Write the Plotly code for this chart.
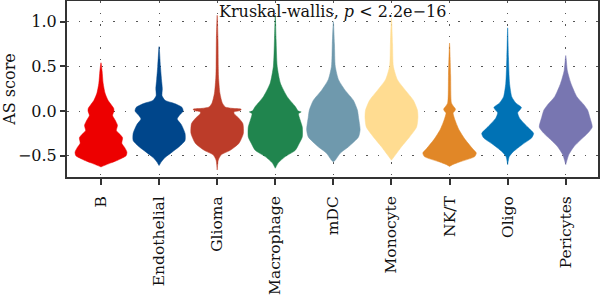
import plotly.graph_objects as go

CATEGORIES = ["B", "Endothelial", "Glioma", "Macrophage", "mDC", "Monocyte", "NK/T", "Oligo", "Pericytes"]
COLORS = ["#ED0000", "#00468B", "#BC3C29", "#20854E", "#6F99AD", "#FFDC91", "#E18727", "#0072B5", "#7876B1"]

# Violin profiles: AS score level and relative density (0..1)
B_Y = [0.54, 0.45, 0.31, 0.20, 0.12, 0.07, 0.03, 0.0, -0.05, -0.10, -0.16, -0.22, -0.26, -0.30, -0.36, -0.41, -0.46, -0.50, -0.55, -0.58, -0.61, -0.625]
B_D = [0.0, 0.04, 0.08, 0.15, 0.26, 0.38, 0.47, 0.48, 0.43, 0.52, 0.61, 0.57, 0.70, 0.80, 0.77, 0.88, 0.96, 0.93, 0.62, 0.37, 0.12, 0.0]

EN_Y = [0.72, 0.50, 0.35, 0.25, 0.17, 0.12, 0.08, 0.04, 0.0, -0.05, -0.09, -0.15, -0.25, -0.33, -0.40, -0.46, -0.52, -0.57, -0.61]
EN_D = [0.0, 0.05, 0.09, 0.12, 0.11, 0.22, 0.60, 0.85, 0.89, 0.75, 0.67, 0.82, 0.96, 0.96, 0.74, 0.48, 0.22, 0.08, 0.0]

GL_Y = [1.07, 0.80, 0.50, 0.38, 0.20, 0.09, 0.045, 0.03, 0.02, 0.005, -0.01, -0.03, -0.08, -0.14, -0.25, -0.36, -0.44, -0.49, -0.55, -0.66]
GL_D = [0.0, 0.03, 0.04, 0.05, 0.10, 0.19, 0.30, 0.55, 0.89, 0.85, 0.62, 0.63, 0.80, 0.95, 0.97, 0.81, 0.48, 0.15, 0.04, 0.0]

MA_Y = [1.07, 0.80, 0.50, 0.31, 0.16, 0.05, 0.0, -0.01, -0.03, -0.10, -0.18, -0.29, -0.36, -0.44, -0.51, -0.58, -0.64]
MA_D = [0.0, 0.03, 0.07, 0.19, 0.44, 0.74, 0.85, 0.96, 0.86, 0.92, 1.0, 1.0, 0.89, 0.74, 0.37, 0.11, 0.0]

MD_Y = [1.00, 0.75, 0.50, 0.35, 0.23, 0.12, 0.01, -0.07, -0.21, -0.29, -0.40, -0.47, -0.55, -0.57]
MD_D = [0.0, 0.04, 0.07, 0.19, 0.44, 0.74, 0.89, 0.93, 0.99, 0.93, 0.56, 0.26, 0.07, 0.0]

MO_Y = [1.04, 0.75, 0.50, 0.35, 0.23, 0.12, 0.01, -0.07, -0.18, -0.29, -0.40, -0.49, -0.55]
MO_D = [0.0, 0.04, 0.07, 0.22, 0.52, 0.81, 0.96, 0.98, 0.93, 0.67, 0.37, 0.15, 0.0]

NK_Y = [0.76, 0.40, 0.09, 0.05, 0.02, -0.005, -0.02, -0.10, -0.21, -0.32, -0.42, -0.47, -0.51, -0.57, -0.60, -0.62]
NK_D = [0.0, 0.04, 0.07, 0.15, 0.22, 0.18, 0.13, 0.20, 0.35, 0.58, 0.85, 0.99, 0.93, 0.37, 0.11, 0.0]

OL_Y = [0.93, 0.60, 0.31, 0.16, 0.09, 0.04, 0.01, -0.02, -0.08, -0.18, -0.25, -0.30, -0.38, -0.46, -0.51, -0.60]
OL_D = [0.0, 0.03, 0.07, 0.15, 0.30, 0.51, 0.45, 0.37, 0.44, 0.74, 0.96, 0.89, 0.52, 0.19, 0.06, 0.0]

PE_Y = [0.62, 0.45, 0.31, 0.16, 0.07, 0.01, -0.07, -0.18, -0.25, -0.32, -0.40, -0.49, -0.60]
PE_D = [0.0, 0.06, 0.19, 0.41, 0.67, 0.81, 0.89, 0.98, 0.81, 0.56, 0.30, 0.11, 0.0]

PROFILES = [(B_Y, B_D), (EN_Y, EN_D), (GL_Y, GL_D), (MA_Y, MA_D), (MD_Y, MD_D),
            (MO_Y, MO_D), (NK_Y, NK_D), (OL_Y, OL_D), (PE_Y, PE_D)]

Y_TICKS = [-0.5, 0.0, 0.5, 1.0]
Y_TICK_TEXT = ["\u22120.5", "0.0", "0.5", "1.0"]
TITLE = "Kruskal-wallis, <i>p</i> < 2.2e\u221216"

HALF_WIDTH = 0.465  # max half width of a violin, in category units
FONT = "DejaVu Serif"

fig = go.Figure()
for i, (cat, col, (ys, ds)) in enumerate(zip(CATEGORIES, COLORS, PROFILES)):
    xs_right = [i + HALF_WIDTH * d for d in ds]
    xs_left = [i - HALF_WIDTH * d for d in reversed(ds)]
    xs = xs_right + xs_left
    yy = list(ys) + list(reversed(ys))
    fig.add_trace(go.Scatter(
        x=xs, y=yy, mode="lines", fill="toself", fillcolor=col,
        line=dict(color=col, width=0.5, shape="spline", smoothing=0.6),
        hoverinfo="skip", showlegend=False, name=cat,
    ))

fig.update_layout(
    width=600, height=297,
    margin=dict(l=67, r=2, t=1, b=120),
    paper_bgcolor="white", plot_bgcolor="white",
    font=dict(family=FONT, size=16, color="#222"),
    showlegend=False,
)
fig.update_xaxes(
    range=[-0.585, 8.555], automargin=False,
    tickmode="array", tickvals=list(range(len(CATEGORIES))), ticktext=CATEGORIES,
    tickangle=-90, tickfont=dict(family=FONT, size=15.5, color="#111"),
    ticks="outside", ticklen=6, tickwidth=1.5, tickcolor="#333",
    ticklabelstandoff=5,
    showline=True, linecolor="#333", linewidth=2, mirror=True,
    showgrid=True, gridcolor="#555", gridwidth=1, griddash="1.5px,10px",
    zeroline=False,
)
fig.update_yaxes(
    range=[-0.738, 1.23], automargin=False,
    tickmode="array", tickvals=Y_TICKS, ticktext=Y_TICK_TEXT,
    tickfont=dict(family=FONT, size=16, color="#111"),
    ticks="outside", ticklen=5, tickwidth=1.5, tickcolor="#333",
    showline=True, linecolor="#333", linewidth=2, mirror=True,
    showgrid=True, gridcolor="#555", gridwidth=1, griddash="1.5px,10px",
    zeroline=False,
    title=dict(text="AS score", font=dict(family=FONT, size=16, color="#111"), standoff=4),
)
fig.add_annotation(
    x=0.5, y=1.0, xref="paper", yref="paper", xanchor="center", yanchor="top",
    text=TITLE, showarrow=False, font=dict(family=FONT, size=16, color="#111"),
    yshift=1,
)
fig.write_html("out.html")
